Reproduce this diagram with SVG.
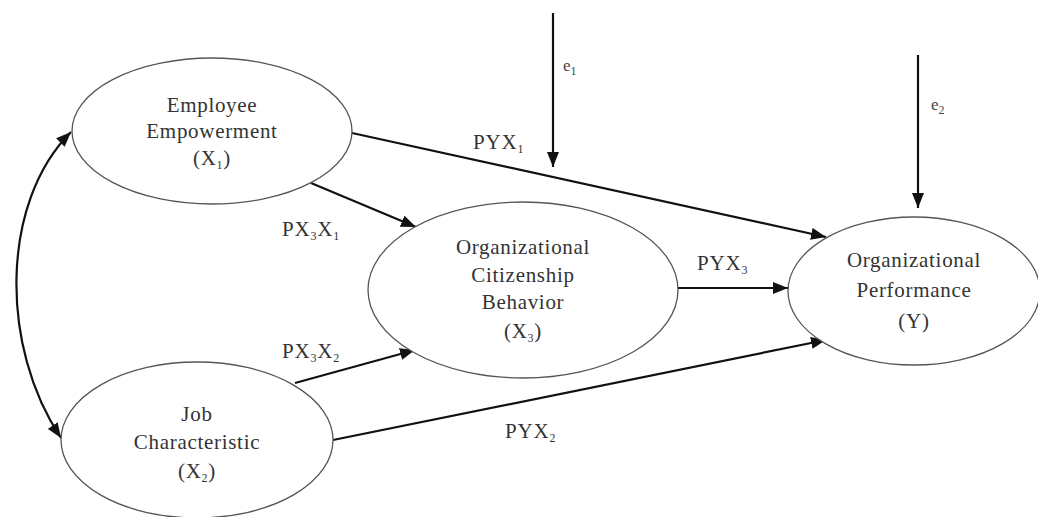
<svg xmlns="http://www.w3.org/2000/svg" width="1038" height="517" viewBox="0 0 1038 517">
<style>
.node ellipse{fill:#fff;stroke:#555;stroke-width:1.3}
.lbl{font-family:"Liberation Serif","Times New Roman",serif;font-size:21px;letter-spacing:0.7px;fill:#333;text-anchor:middle}
.path{font-family:"Liberation Serif","Times New Roman",serif;font-size:21px;letter-spacing:0.8px;fill:#333;text-anchor:start}
.err{font-family:"Liberation Serif","Times New Roman",serif;font-size:17px;fill:#444}
.sub{font-size:12px}
.conn path,.conn line{stroke:#111;stroke-width:2.2;fill:none}
</style>
<defs>
<marker id="ah" markerUnits="userSpaceOnUse" markerWidth="16" markerHeight="12" refX="15" refY="6" orient="auto-start-reverse">
<path d="M0,0 L15,6 L0,12 Z" fill="#111"/>
</marker>
</defs>
<rect width="1038" height="517" fill="#fff"/>
<g class="conn">
<path d="M71,132 C0,203 0,347 61,438" marker-start="url(#ah)" marker-end="url(#ah)"/>
<line x1="553" y1="13" x2="553" y2="167" marker-end="url(#ah)"/>
<line x1="918" y1="55" x2="918" y2="208" marker-end="url(#ah)"/>
<line x1="352" y1="133" x2="826" y2="237" marker-end="url(#ah)"/>
<line x1="311" y1="183" x2="416" y2="227" marker-end="url(#ah)"/>
<line x1="295" y1="383" x2="415" y2="350" marker-end="url(#ah)"/>
<line x1="333" y1="440" x2="826" y2="340" marker-end="url(#ah)"/>
<line x1="678" y1="288" x2="788" y2="288" marker-end="url(#ah)"/>
</g>
<g id="x1" class="node">
<ellipse cx="212" cy="131" rx="140" ry="73"/>
<text class="lbl" x="212" y="112">Employee</text>
<text class="lbl" x="212" y="138">Empowerment</text>
<text class="lbl" x="212" y="165">(X<tspan class="sub" dy="4">1</tspan><tspan dy="-4">)</tspan></text>
</g>
<g id="x2" class="node">
<ellipse cx="197" cy="440" rx="136" ry="78"/>
<text class="lbl" x="197" y="421">Job</text>
<text class="lbl" x="197" y="449">Characteristic</text>
<text class="lbl" x="197" y="478">(X<tspan class="sub" dy="4">2</tspan><tspan dy="-4">)</tspan></text>
</g>
<g id="x3" class="node">
<ellipse cx="523" cy="290" rx="155" ry="88"/>
<text class="lbl" x="523" y="254">Organizational</text>
<text class="lbl" x="523" y="282">Citizenship</text>
<text class="lbl" x="523" y="309">Behavior</text>
<text class="lbl" x="523" y="338">(X<tspan class="sub" dy="4">3</tspan><tspan dy="-4">)</tspan></text>
</g>
<g id="y" class="node">
<ellipse cx="914" cy="291" rx="126" ry="74"/>
<text class="lbl" x="914" y="267">Organizational</text>
<text class="lbl" x="914" y="297">Performance</text>
<text class="lbl" x="914" y="328">(Y)</text>
</g>
<g id="labels">
<text class="path" x="473" y="149">PYX<tspan class="sub" dy="4">1</tspan></text>
<text class="path" x="282" y="236">PX<tspan class="sub" dy="4">3</tspan><tspan dy="-4">X</tspan><tspan class="sub" dy="4">1</tspan></text>
<text class="path" x="282" y="358">PX<tspan class="sub" dy="4">3</tspan><tspan dy="-4">X</tspan><tspan class="sub" dy="4">2</tspan></text>
<text class="path" x="697" y="270">PYX<tspan class="sub" dy="4">3</tspan></text>
<text class="path" x="505" y="438">PYX<tspan class="sub" dy="4">2</tspan></text>
<text class="err" x="563" y="71">e<tspan class="sub" dy="4">1</tspan></text>
<text class="err" x="931" y="110">e<tspan class="sub" dy="4">2</tspan></text>
</g>
</svg>
